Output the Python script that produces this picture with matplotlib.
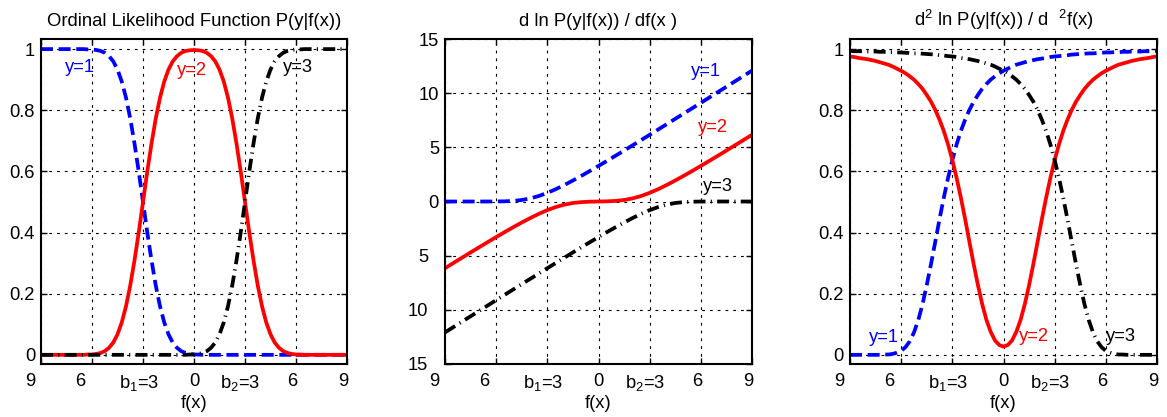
import matplotlib
matplotlib.use("Agg")
import matplotlib.pyplot as plt
from matplotlib.transforms import ScaledTranslation

plt.rcParams['font.family'] = ['Liberation Sans', 'DejaVu Sans']
plt.rcParams['mathtext.fontset'] = 'custom'
plt.rcParams['mathtext.rm'] = 'Liberation Sans'
plt.rcParams['mathtext.it'] = 'Liberation Sans:italic'
plt.rcParams['mathtext.bf'] = 'Liberation Sans:bold'
plt.rcParams['mathtext.default'] = 'regular'

# ---------------- data ----------------
# fine f(x) grid (step 0.25) for panels 1 and 3
f_fine = [-9, -8.75, -8.5, -8.25, -8, -7.75, -7.5, -7.25, -7, -6.75, -6.5, -6.25, -6, -5.75,
          -5.5, -5.25, -5, -4.75, -4.5, -4.25, -4, -3.75, -3.5, -3.25, -3, -2.75, -2.5, -2.25,
          -2, -1.75, -1.5, -1.25, -1, -0.75, -0.5, -0.25, 0, 0.25, 0.5, 0.75, 1, 1.25, 1.5,
          1.75, 2, 2.25, 2.5, 2.75, 3, 3.25, 3.5, 3.75, 4, 4.25, 4.5, 4.75, 5, 5.25, 5.5, 5.75,
          6, 6.25, 6.5, 6.75, 7, 7.25, 7.5, 7.75, 8, 8.25, 8.5, 8.75, 9]
# coarse f(x) grid (step 0.5) for panel 2
f_coarse = [-9, -8.5, -8, -7.5, -7, -6.5, -6, -5.5, -5, -4.5, -4, -3.5, -3, -2.5, -2, -1.5, -1,
            -0.5, 0, 0.5, 1, 1.5, 2, 2.5, 3, 3.5, 4, 4.5, 5, 5.5, 6, 6.5, 7, 7.5, 8, 8.5, 9]

# panel 1: likelihood P(y|f)
lik_y1 = [1, 1, 1, 1, 1, 1, 1, 1, 1, 1, 1, 0.999, 0.999, 0.997, 0.994, 0.988, 0.977, 0.960,
          0.933, 0.894, 0.841, 0.773, 0.691, 0.599, 0.5, 0.401, 0.309, 0.227, 0.159, 0.106,
          0.067, 0.040, 0.023, 0.012, 0.006, 0.003, 0.001, 0.001, 0, 0, 0, 0, 0, 0, 0, 0, 0,
          0, 0, 0, 0, 0, 0, 0, 0, 0, 0, 0, 0, 0, 0, 0, 0, 0, 0, 0, 0, 0, 0, 0, 0, 0, 0]
lik_y2 = [0, 0, 0, 0, 0, 0, 0, 0, 0, 0, 0, 0.001, 0.001, 0.003, 0.006, 0.012, 0.023, 0.040,
          0.067, 0.106, 0.159, 0.227, 0.309, 0.401, 0.5, 0.599, 0.691, 0.773, 0.841, 0.894,
          0.933, 0.960, 0.977, 0.988, 0.994, 0.996, 0.997, 0.996, 0.994, 0.988, 0.977, 0.960,
          0.933, 0.894, 0.841, 0.773, 0.691, 0.599, 0.5, 0.401, 0.309, 0.227, 0.159, 0.106,
          0.067, 0.040, 0.023, 0.012, 0.006, 0.003, 0.001, 0.001, 0, 0, 0, 0, 0, 0, 0, 0, 0,
          0, 0]
lik_y3 = [0, 0, 0, 0, 0, 0, 0, 0, 0, 0, 0, 0, 0, 0, 0, 0, 0, 0, 0, 0, 0, 0, 0, 0, 0, 0, 0,
          0, 0, 0, 0, 0, 0, 0, 0, 0.001, 0.001, 0.003, 0.006, 0.012, 0.023, 0.040, 0.067,
          0.106, 0.159, 0.227, 0.309, 0.401, 0.5, 0.599, 0.691, 0.773, 0.841, 0.894, 0.933,
          0.960, 0.977, 0.988, 0.994, 0.997, 0.999, 0.999, 1, 1, 1, 1, 1, 1, 1, 1, 1, 1, 1]

# panel 2: first derivative
d1_y1 = [0, 0, 0, 0, 0, 0.001, 0.004, 0.018, 0.055, 0.139, 0.288, 0.509, 0.798, 1.141, 1.525,
         1.939, 2.373, 2.823, 3.283, 3.753, 4.225, 4.702, 5.187, 5.670, 6.158, 6.647, 7.137,
         7.629, 8.121, 8.614, 9.108, 9.603, 10.098, 10.594, 11.089, 11.586, 12.082]
d1_y2 = [-6.158, -5.670, -5.187, -4.702, -4.225, -3.753, -3.283, -2.823, -2.373, -1.939, -1.525,
         -1.141, -0.798, -0.509, -0.288, -0.139, -0.055, -0.017, 0, 0.017, 0.055, 0.139, 0.288,
         0.509, 0.798, 1.141, 1.525, 1.939, 2.373, 2.823, 3.283, 3.753, 4.225, 4.702, 5.187,
         5.670, 6.158]
d1_y3 = [-12.082, -11.586, -11.089, -10.594, -10.098, -9.603, -9.108, -8.614, -8.121, -7.629,
         -7.137, -6.647, -6.158, -5.670, -5.187, -4.702, -4.225, -3.753, -3.283, -2.823, -2.373,
         -1.939, -1.525, -1.141, -0.798, -0.509, -0.288, -0.139, -0.055, -0.018, -0.004, -0.001,
         0, 0, 0, 0, 0]

# panel 3: negative second derivative
d2_y1 = [0, 0, 0, 0, 0, 0, 0, 0, 0.001, 0.001, 0.003, 0.007, 0.013, 0.025, 0.044, 0.073,
         0.113, 0.165, 0.228, 0.297, 0.370, 0.444, 0.514, 0.579, 0.637, 0.688, 0.732, 0.769,
         0.801, 0.828, 0.850, 0.870, 0.886, 0.900, 0.911, 0.921, 0.929, 0.936, 0.943, 0.949,
         0.953, 0.957, 0.961, 0.964, 0.967, 0.969, 0.971, 0.974, 0.976, 0.977, 0.979, 0.980,
         0.982, 0.983, 0.984, 0.985, 0.986, 0.986, 0.987, 0.988, 0.989, 0.989, 0.990, 0.990,
         0.991, 0.991, 0.992, 0.992, 0.992, 0.993, 0.993, 0.993, 0.994]
d2_y2 = [0.976, 0.974, 0.971, 0.969, 0.967, 0.964, 0.961, 0.957, 0.953, 0.949, 0.943, 0.936,
         0.929, 0.921, 0.911, 0.900, 0.886, 0.870, 0.850, 0.828, 0.801, 0.769, 0.732, 0.688,
         0.637, 0.579, 0.514, 0.444, 0.370, 0.297, 0.228, 0.166, 0.114, 0.075, 0.047, 0.032,
         0.027, 0.032, 0.047, 0.075, 0.114, 0.166, 0.228, 0.297, 0.370, 0.444, 0.514, 0.579,
         0.637, 0.688, 0.732, 0.769, 0.801, 0.828, 0.850, 0.870, 0.886, 0.900, 0.911, 0.921,
         0.929, 0.936, 0.943, 0.949, 0.953, 0.957, 0.961, 0.964, 0.967, 0.969, 0.971, 0.974,
         0.976]
d2_y3 = [0.994, 0.993, 0.993, 0.993, 0.992, 0.992, 0.992, 0.991, 0.991, 0.990, 0.990, 0.989,
         0.989, 0.988, 0.987, 0.986, 0.986, 0.985, 0.984, 0.983, 0.982, 0.980, 0.979, 0.977,
         0.976, 0.974, 0.971, 0.969, 0.967, 0.964, 0.961, 0.957, 0.953, 0.949, 0.943, 0.936,
         0.929, 0.921, 0.911, 0.900, 0.886, 0.870, 0.850, 0.828, 0.801, 0.769, 0.732, 0.688,
         0.637, 0.579, 0.514, 0.444, 0.370, 0.297, 0.228, 0.165, 0.113, 0.073, 0.044, 0.025,
         0.013, 0.007, 0.003, 0.001, 0.001, 0, 0, 0, 0, 0, 0, 0, 0]

x_ticks = [-9, -6, -3, 0, 3, 6, 9]
x_tick_labels = ['9', '6', 'b$_1$=3', '0', 'b$_2$=3', '6', '9']
prob_ticks = [0, 0.2, 0.4, 0.6, 0.8, 1]
prob_tick_labels = ['0', '0.2', '0.4', '0.6', '0.8', '1']
grad_ticks = [-15, -10, -5, 0, 5, 10, 15]
grad_tick_labels = ['15', '10', '5', '0', '5', '10', '15']

titles = ['Ordinal Likelihood Function P(y|f(x))',
          'd ln P(y|f(x)) / df(x )',
          'd$^2$ ln P(y|f(x)) / d  $^2$f(x)']
series_names = ['y=1', 'y=2', 'y=3']

# ---------------- style ----------------
LW = 2.7
colors = ['#0000ff', '#ff0000', '#000000']
styles = [(0, (3.2, 1.5)), '-', (0, (3.2, 1.4, 0.3, 1.4))]
FS = 13.2
DPI = 100

fig = plt.figure(figsize=(11.67, 4.17), dpi=DPI)
W, H = 1167.0, 417.0
ax_rects = [(41, 364, 306, 325), (445, 364, 307, 325), (850, 364, 307, 325)]
axes = [fig.add_axes([l / W, (H - b) / H, w / W, h / H]) for (l, b, w, h) in ax_rects]

panels = [
    (axes[0], f_fine, [lik_y1, lik_y2, lik_y3], (-0.03, 1.033), prob_ticks, prob_tick_labels,
     [(-6.7, 0.94), (-0.1, 0.93), (6.1, 0.94)]),
    (axes[1], f_coarse, [d1_y1, d1_y2, d1_y3], (-15, 15), grad_ticks, grad_tick_labels,
     [(6.3, 12.0), (6.7, 6.8), (7.0, 1.4)]),
    (axes[2], f_fine, [d2_y1, d2_y2, d2_y3], (-0.03, 1.033), prob_ticks, prob_tick_labels,
     [(-7.0, 0.058), (1.8, 0.06), (6.9, 0.06)]),
]

x_label_dx = [-11, -12, -4, 0, -5, -4, -4]  # px offsets of x tick labels


def px(v):
    return v / DPI


for i, (ax, fx, series, ylim, yt, ytl, label_pos) in enumerate(panels):
    for s, c, ls in zip(series, colors, styles):
        ax.plot(fx, s, color=c, linestyle=ls, lw=LW, zorder=3,
                dash_capstyle='butt', solid_capstyle='butt', solid_joinstyle='round')
    ax.set_xlim(-9, 9)
    ax.set_ylim(*ylim)
    ax.set_xticks(x_ticks)
    ax.set_yticks(yt)
    ax.set_xticklabels([])
    ax.set_yticklabels([])
    ax.tick_params(direction='in', length=4, width=1, top=True, right=True, color='k')
    ax.grid(True, color='k', linestyle=(0, (2.5, 4.5)), lw=0.8, zorder=1)
    for sp in ax.spines.values():
        sp.set_linewidth(1.5)
        sp.set_zorder(4)

    # x tick labels
    for xv, lab, dx in zip(x_ticks, x_tick_labels, x_label_dx):
        tr = ax.get_xaxis_transform() + ScaledTranslation(px(dx), px(-9), fig.dpi_scale_trans)
        ax.text(xv, 0, lab, transform=tr, ha='center', va='top', fontsize=FS)
    # y tick labels
    for yv, lab in zip(yt, ytl):
        dx = -6 if yv >= 0 else -17
        tr = ax.get_yaxis_transform() + ScaledTranslation(px(dx), 0, fig.dpi_scale_trans)
        ax.text(0, yv, lab, transform=tr, ha='right', va='center_baseline', fontsize=FS)

    # x label
    trx = ax.transAxes + ScaledTranslation(0, px(-40), fig.dpi_scale_trans)
    ax.text(0.5, 0, 'f(x)', transform=trx, ha='center', va='center', fontsize=FS)
    # title
    trt = ax.transAxes + ScaledTranslation(0, px(13), fig.dpi_scale_trans)
    ax.text(0.5, 1, titles[i], transform=trt, ha='center', va='baseline', fontsize=13.3)

    # curve labels
    for (lx, ly), name, c in zip(label_pos, series_names, colors):
        ax.text(lx, ly, name, color=c, fontsize=FS, ha='center', va='center', zorder=5)

fig.savefig('out.png', dpi=DPI)
